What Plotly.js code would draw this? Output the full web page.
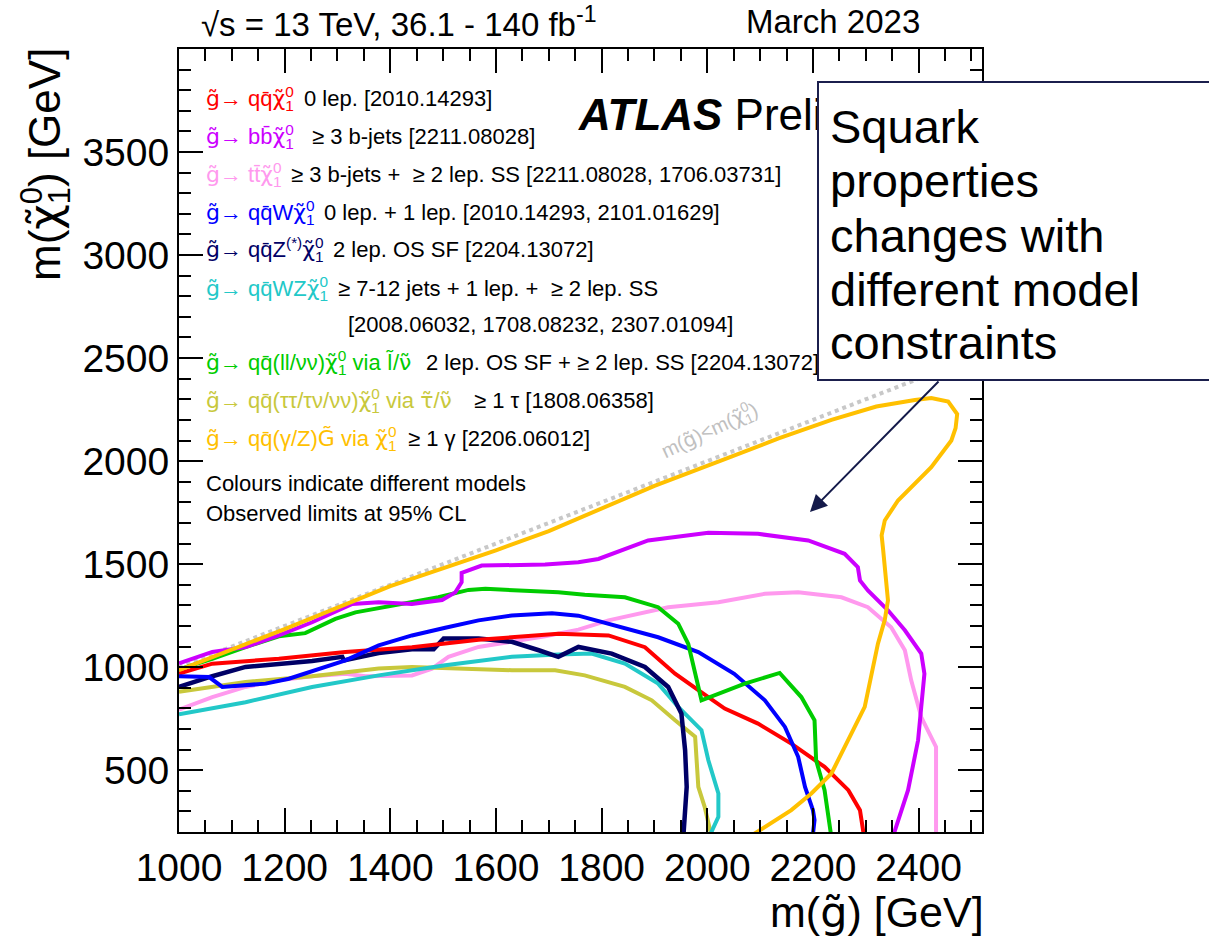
<!DOCTYPE html>
<html>
<head>
<meta charset="utf-8">
<script src="https://cdn.plot.ly/plotly-3.0.1.min.js"></script>
<style>
  html, body { margin: 0; padding: 0; background: #ffffff; }
  #chart { width: 1209px; height: 940px; }
</style>
</head>
<body>
<div id="chart"></div>
<script>
// ---- Observed 95% CL exclusion contours: m(gluino) [GeV] vs m(LSP) [GeV] ----

// g~ -> q qbar chi1 (0 lep.)
const qqX = [1000, 1063, 1189, 1315, 1441, 1567, 1718, 1813, 1882, 1939, 1983, 2033, 2096, 2159, 2222, 2267, 2289, 2296];
const qqY = [969, 1017, 1041, 1074, 1097, 1133, 1162, 1154, 1097, 968, 888, 799, 726, 629, 516, 403, 306, 190];

// g~ -> b bbar chi1 (>= 3 b-jets)
const bbX = [1000, 1063, 1126, 1189, 1252, 1328, 1378, 1441, 1498, 1523, 1535, 1535, 1573, 1693, 1756, 1794, 1888, 2002, 2096, 2191, 2260, 2285, 2289, 2304, 2342, 2374, 2405, 2411, 2405, 2399, 2380, 2353];
const bbY = [1019, 1074, 1097, 1154, 1218, 1307, 1315, 1307, 1326, 1363, 1412, 1457, 1493, 1498, 1509, 1525, 1615, 1652, 1647, 1615, 1550, 1485, 1421, 1372, 1276, 1179, 1066, 968, 807, 645, 403, 190];

// g~ -> t tbar chi1 (>= 3 b-jets + >= 2 lep. SS)
const ttX = [1000, 1063, 1126, 1189, 1252, 1315, 1353, 1441, 1479, 1510, 1567, 1630, 1693, 1756, 1813, 1926, 2021, 2109, 2172, 2254, 2304, 2348, 2374, 2386, 2405, 2433, 2433, 2433];
const ttY = [794, 855, 904, 936, 956, 968, 956, 960, 993, 1050, 1098, 1123, 1150, 1182, 1227, 1291, 1315, 1356, 1363, 1339, 1291, 1194, 1082, 936, 758, 613, 435, 190];

// g~ -> q qbar W chi1 (0 lep. + 1 lep.)
const qqWX = [1000, 1057, 1082, 1164, 1208, 1265, 1315, 1378, 1441, 1504, 1567, 1630, 1706, 1756, 1813, 1907, 1983, 2051, 2109, 2147, 2172, 2185, 2200, 2203, 2200];
const qqWY = [956, 952, 904, 920, 944, 993, 1033, 1106, 1154, 1191, 1227, 1251, 1262, 1250, 1211, 1145, 1073, 968, 839, 710, 565, 419, 306, 258, 190];

// g~ -> q qbar Z(*) chi1 (2 lep. OS SF)
const qqZX = [1000, 1063, 1126, 1189, 1252, 1309, 1312, 1378, 1441, 1482, 1501, 1567, 1630, 1681, 1718, 1756, 1819, 1882, 1926, 1951, 1958, 1961, 1955];
const qqZY = [904, 956, 1001, 1017, 1030, 1050, 1033, 1069, 1087, 1087, 1139, 1139, 1123, 1082, 1050, 1098, 1066, 1001, 904, 775, 597, 419, 190];

// g~ -> q qbar W Z chi1 (>= 7-12 jets + 1 lep. + >= 2 lep. SS)
const qqWZX = [1000, 1126, 1252, 1378, 1504, 1630, 1718, 1781, 1844, 1907, 1945, 1989, 2002, 2021, 2021, 2006];
const qqWZY = [771, 830, 904, 960, 1009, 1050, 1062, 1066, 1017, 920, 807, 694, 548, 387, 274, 190];

// g~ -> q qbar (ll/nunu) chi1 via slepton/sneutrino
const qqllX = [1000, 1063, 1126, 1189, 1239, 1296, 1334, 1428, 1491, 1548, 1580, 1718, 1768, 1844, 1907, 1945, 1964, 1989, 2071, 2137, 2178, 2203, 2206, 2222, 2234];
const qqllY = [990, 1040, 1097, 1150, 1165, 1234, 1266, 1307, 1339, 1375, 1380, 1363, 1351, 1339, 1291, 1211, 1113, 839, 920, 972, 855, 742, 548, 403, 190];

// g~ -> q qbar (tautau/taunu/nunu) chi1 via stau/sneutrino
const qqtautauX = [1000, 1126, 1252, 1378, 1441, 1567, 1630, 1712, 1768, 1844, 1895, 1939, 1977, 1983, 1995, 2007];
const qqtautauY = [880, 928, 956, 993, 1001, 993, 985, 985, 960, 904, 839, 742, 662, 419, 322, 190];

// g~ -> q qbar (gamma/Z) G~ via chi1
const qqgamX = [1000, 1200, 1400, 1500, 1600, 1700, 1794, 1900, 2027, 2135, 2235, 2320, 2393, 2424, 2456, 2473, 2470, 2462, 2424, 2361, 2336, 2330, 2333, 2342, 2336, 2323, 2298, 2267, 2235, 2197, 2159, 2088];
const qqgamY = [985, 1185, 1393, 1480, 1567, 1660, 1765, 1880, 2003, 2110, 2200, 2265, 2297, 2306, 2289, 2228, 2160, 2100, 1970, 1809, 1712, 1640, 1566, 1324, 1230, 1114, 807, 645, 484, 387, 306, 190];

// kinematic boundary m(gluino) = m(chi1)
const boundaryX = [1000, 2520];
const boundaryY = [1000, 2520];

// axis ticks
const xTickVals = [1000, 1200, 1400, 1600, 1800, 2000, 2200, 2400];
const yTickVals = [500, 1000, 1500, 2000, 2500, 3000, 3500];

// ---- text helpers ----
// tilded symbols are set in DejaVu Sans, which positions combining marks well
const tl = s => '<span style="font-family:DejaVu Sans">' + s + '\u0303</span>';
// superscript stacked over subscript: pull the subscript back under the superscript
const stack = (up, down, pull) =>
  '<sup><span style="letter-spacing:-' + pull + 'px">' + up + '</span></sup><sub>' + down + '</sub>';
const gl = tl('g') + '\u2192 ';
const chi = tl('\u03C7') + stack('0', '1', 8.5);

const legendLabels = [
  gl + 'qq\u0304' + chi,
  gl + 'bb\u0304' + chi,
  gl + 'tt\u0304' + chi,
  gl + 'qq\u0304W' + chi,
  gl + 'qq\u0304Z<sup>(*)</sup>' + chi,
  gl + 'qq\u0304WZ' + chi,
  '',
  gl + 'qq\u0304(ll/\u03BD\u03BD)' + chi + ' via ' + tl('l') + '/' + tl('\u03BD'),
  gl + 'qq\u0304(\u03C4\u03C4/\u03C4\u03BD/\u03BD\u03BD)' + chi + ' via ' + tl('\u03C4') + '/' + tl('\u03BD'),
  gl + 'qq\u0304(\u03B3/Z)' + tl('G') + ' via ' + chi,
  '',
  ''
];
const legendNotes = [
  '0 lep. [2010.14293]',
  '\u2265 3 b-jets [2211.08028]',
  '\u2265 3 b-jets +  \u2265 2 lep. SS [2211.08028, 1706.03731]',
  '0 lep. + 1 lep. [2010.14293, 2101.01629]',
  '2 lep. OS SF [2204.13072]',
  '\u2265 7-12 jets + 1 lep. +  \u2265 2 lep. SS',
  '[2008.06032, 1708.08232, 2307.01094]',
  '2 lep. OS SF + \u2265 2 lep. SS [2204.13072]',
  '\u2265 1 \u03C4 [1808.06358]',
  '\u2265 1 \u03B3 [2206.06012]',
  'Colours indicate different models',
  'Observed limits at 95% CL'
];
const calloutLines = ['Squark', 'properties', 'changes with', 'different model', 'constraints'];

// ---- styling / layout ----
const FONT = 'Liberation Sans, Arial, Helvetica, sans-serif';
const W = 1209, H = 940;
const L = 179, R = 982, T = 49, B = 832;
const px2x = px => (px - L) / (R - L);
const py2y = py => (B - py) / (B - T);

const C = {
  red: '#ff0000', purple: '#cc00ff', pink: '#ff99ee', blue: '#0000ff',
  navy: '#000066', cyan: '#22c8c8', green: '#00cc00', olive: '#c8c83c',
  gold: '#ffc000', gray: '#c8c8c8'
};
const legendColors = [C.red, C.purple, C.pink, C.blue, C.navy, C.cyan, C.cyan, C.green, C.olive, C.gold, '#000', '#000'];
const rowPx = [99, 136, 174, 212, 250, 288, 324, 362, 400, 438, 483, 513];
const notePx = [302, 310, 289, 322, 331, 336, 346, 424, 472, 406, 204, 204];

function line(x, y, color, width, dash) {
  return {
    type: 'scatter', mode: 'lines', x: x, y: y, hoverinfo: 'skip',
    line: { color: color, width: width, dash: dash || 'solid' }, showlegend: false
  };
}

const data = [
  line(boundaryX, boundaryY, C.gray, 4, 'dot'),
  line(ttX, ttY, C.pink, 4),
  line(qqtautauX, qqtautauY, C.olive, 4),
  line(qqWZX, qqWZY, C.cyan, 4),
  line(qqZX, qqZY, C.navy, 4.5),
  line(qqX, qqY, C.red, 4),
  line(qqWX, qqWY, C.blue, 4),
  line(qqllX, qqllY, C.green, 4),
  line(bbX, bbY, C.purple, 4),
  line(qqgamX, qqgamY, C.gold, 4)
];

const annotations = [];
function txt(text, px, py, opts) {
  annotations.push(Object.assign({
    text: text, xref: 'paper', yref: 'paper', x: px2x(px), y: py2y(py),
    xanchor: 'left', yanchor: 'middle', showarrow: false,
    font: { family: FONT, size: 22, color: '#000' }
  }, opts || {}));
}

// legend block
for (let i = 0; i < legendNotes.length; i++) {
  if (legendLabels[i]) txt(legendLabels[i], 204, rowPx[i], { font: { family: FONT, size: 22, color: legendColors[i] } });
  txt(legendNotes[i], notePx[i], rowPx[i]);
}

// kinematic boundary label
txt('m(' + tl('g') + ')&lt;m(' + tl('\u03C7') + stack('0', '1', 7.8) + ')', 710, 431,
  { xanchor: 'center', textangle: -25, font: { family: FONT, size: 20, color: '#c0c0c0' } });

// header
txt('\u221As = 13 TeV, 36.1 - 140 fb<sup>-1</sup>', 199, 22, { font: { family: FONT, size: 33, color: '#000' } });
txt('March 2023', 744, 22, { font: { family: FONT, size: 33, color: '#000' } });
txt('<b><i>ATLAS</i></b> Preliminary', 576, 114, { font: { family: FONT, size: 44, color: '#000' } });

// axis titles
txt('m(' + tl('\u03C7') + stack('0', '1', 17) + ') [GeV]', 45, 165,
  { xanchor: 'center', textangle: -90, font: { family: FONT, size: 44, color: '#000' } });
txt('m(' + tl('g') + ') [GeV]', 986, 912, { xanchor: 'right', font: { family: FONT, size: 43, color: '#000' } });

// callout box
annotations.push({
  text: '&nbsp;', xref: 'paper', yref: 'paper', x: px2x(817), y: py2y(81),
  xanchor: 'left', yanchor: 'top', showarrow: false, width: 430, height: 296,
  bgcolor: '#ffffff', bordercolor: '#1b1f4d', borderwidth: 2, borderpad: 0,
  font: { family: FONT, size: 10 }
});
const calloutPy = [127, 181, 235, 289, 342];
calloutLines.forEach((s, i) => txt(s, 828, calloutPy[i], { font: { family: FONT, size: 47, color: '#000' } }));

// callout arrow
annotations.push({
  text: '', xref: 'paper', yref: 'paper', x: px2x(810), y: py2y(512),
  ax: 130, ay: -132, axref: 'pixel', ayref: 'pixel', showarrow: true,
  arrowhead: 2, arrowsize: 1.7, arrowwidth: 2, arrowcolor: '#141a4a', standoff: 0
});

const axisCommon = {
  showgrid: false, zeroline: false, showline: true, linecolor: '#000', linewidth: 2,
  mirror: 'allticks', ticks: 'inside', tickcolor: '#000', tickwidth: 2,
  tickfont: { family: FONT, size: 39, color: '#000' }, fixedrange: true
};

const layout = {
  width: W, height: H,
  margin: { l: L, r: W - R, t: T, b: H - B, pad: 0 },
  paper_bgcolor: '#ffffff', plot_bgcolor: '#ffffff',
  showlegend: false,
  xaxis: Object.assign({}, axisCommon, {
    range: [1000, 2520], tickmode: 'array', tickvals: xTickVals, ticklen: 24,
    minor: { dtick: 50, tick0: 1000, ticks: 'inside', ticklen: 12, tickwidth: 2, tickcolor: '#000', showgrid: false }
  }),
  yaxis: Object.assign({}, axisCommon, {
    range: [200, 4000], tickmode: 'array', tickvals: yTickVals, ticklen: 24,
    minor: { dtick: 100, tick0: 0, ticks: 'inside', ticklen: 12, tickwidth: 2, tickcolor: '#000', showgrid: false }
  }),
  annotations: annotations
};

Plotly.newPlot('chart', data, layout, { displayModeBar: false, staticPlot: true });
</script>
</body>
</html>
